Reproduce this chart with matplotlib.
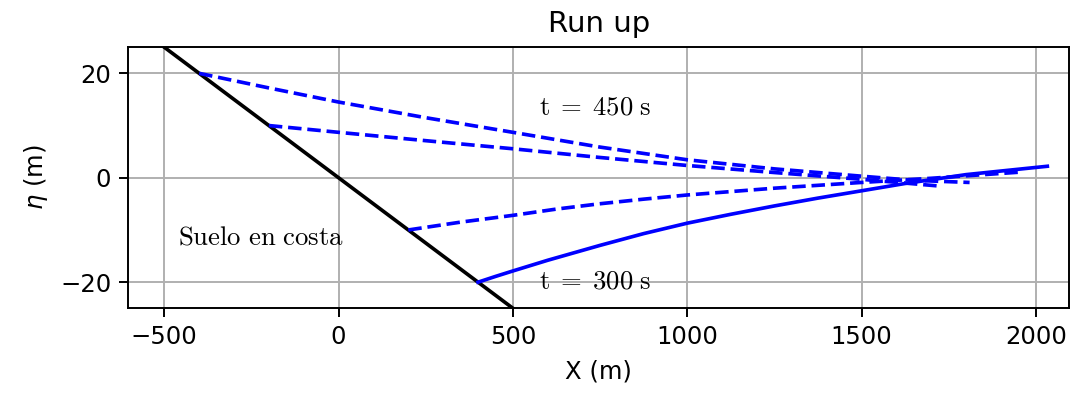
import matplotlib
matplotlib.use('Agg')
import matplotlib.pyplot as plt

# suelo (linea de costa)
suelo_x = [-500, 500]
suelo_y = [25, -25]

# perfiles de la ola
x_300 = [400, 450, 500, 600, 750, 875, 1000, 1125, 1250, 1375, 1500, 1625, 1800, 2033]
y_300 = [-20, -18.9, -17.85, -15.8, -12.95, -10.7, -8.7, -7.0, -5.4, -3.9, -2.5, -1.1, 0.6, 2.2]

x_350 = [200, 350, 500, 625, 747, 875, 1000, 1250, 1500, 1700, 1960]
y_350 = [-10, -8.5, -7.2, -6.0, -5.0, -4.1, -3.3, -2.0, -0.9, -0.1, 1.1]

x_400 = [-200, 0, 250, 500, 747, 1000, 1250, 1500, 1725]
y_400 = [10, 8.7, 7.1, 5.55, 3.9, 2.35, 1.0, -0.3, -1.6]

x_450 = [-400, -200, 0, 250, 500, 747, 1000, 1250, 1500, 1650, 1810]
y_450 = [20, 17.2, 14.5, 11.5, 8.7, 5.9, 3.44, 1.7, 0.3, -0.5, -0.9]

fig = plt.figure(figsize=(1075/175, 396/175), dpi=175)
ax = fig.add_axes([0.1194, 0.2215, 0.8753, 0.6606])

ax.plot(suelo_x, suelo_y, 'k-')
ax.plot(x_300, y_300, 'b-')
ax.plot(x_350, y_350, 'b--')
ax.plot(x_400, y_400, 'b--')
ax.plot(x_450, y_450, 'b--')

ax.text(-462, -12.8, r'$\mathrm{Suelo\ en\ costa}$', fontsize=11, math_fontfamily='cm')
ax.text(574, 12.2, r'$\mathrm{t}\;=\;\mathrm{450\;s}$', fontsize=11, math_fontfamily='cm')
ax.text(574, -21.2, r'$\mathrm{t}\;=\;\mathrm{300\;s}$', fontsize=11, math_fontfamily='cm')

ax.set_xlim(-603, 2096)
ax.set_ylim(-25, 25.1)
ax.set_xticks([-500, 0, 500, 1000, 1500, 2000])
ax.set_yticks([-20, 0, 20])
ax.set_title('Run up')
ax.set_xlabel('X (m)')
ax.set_ylabel(r'$\eta$ (m)')
ax.grid()

fig.savefig('out.png', dpi=175)
